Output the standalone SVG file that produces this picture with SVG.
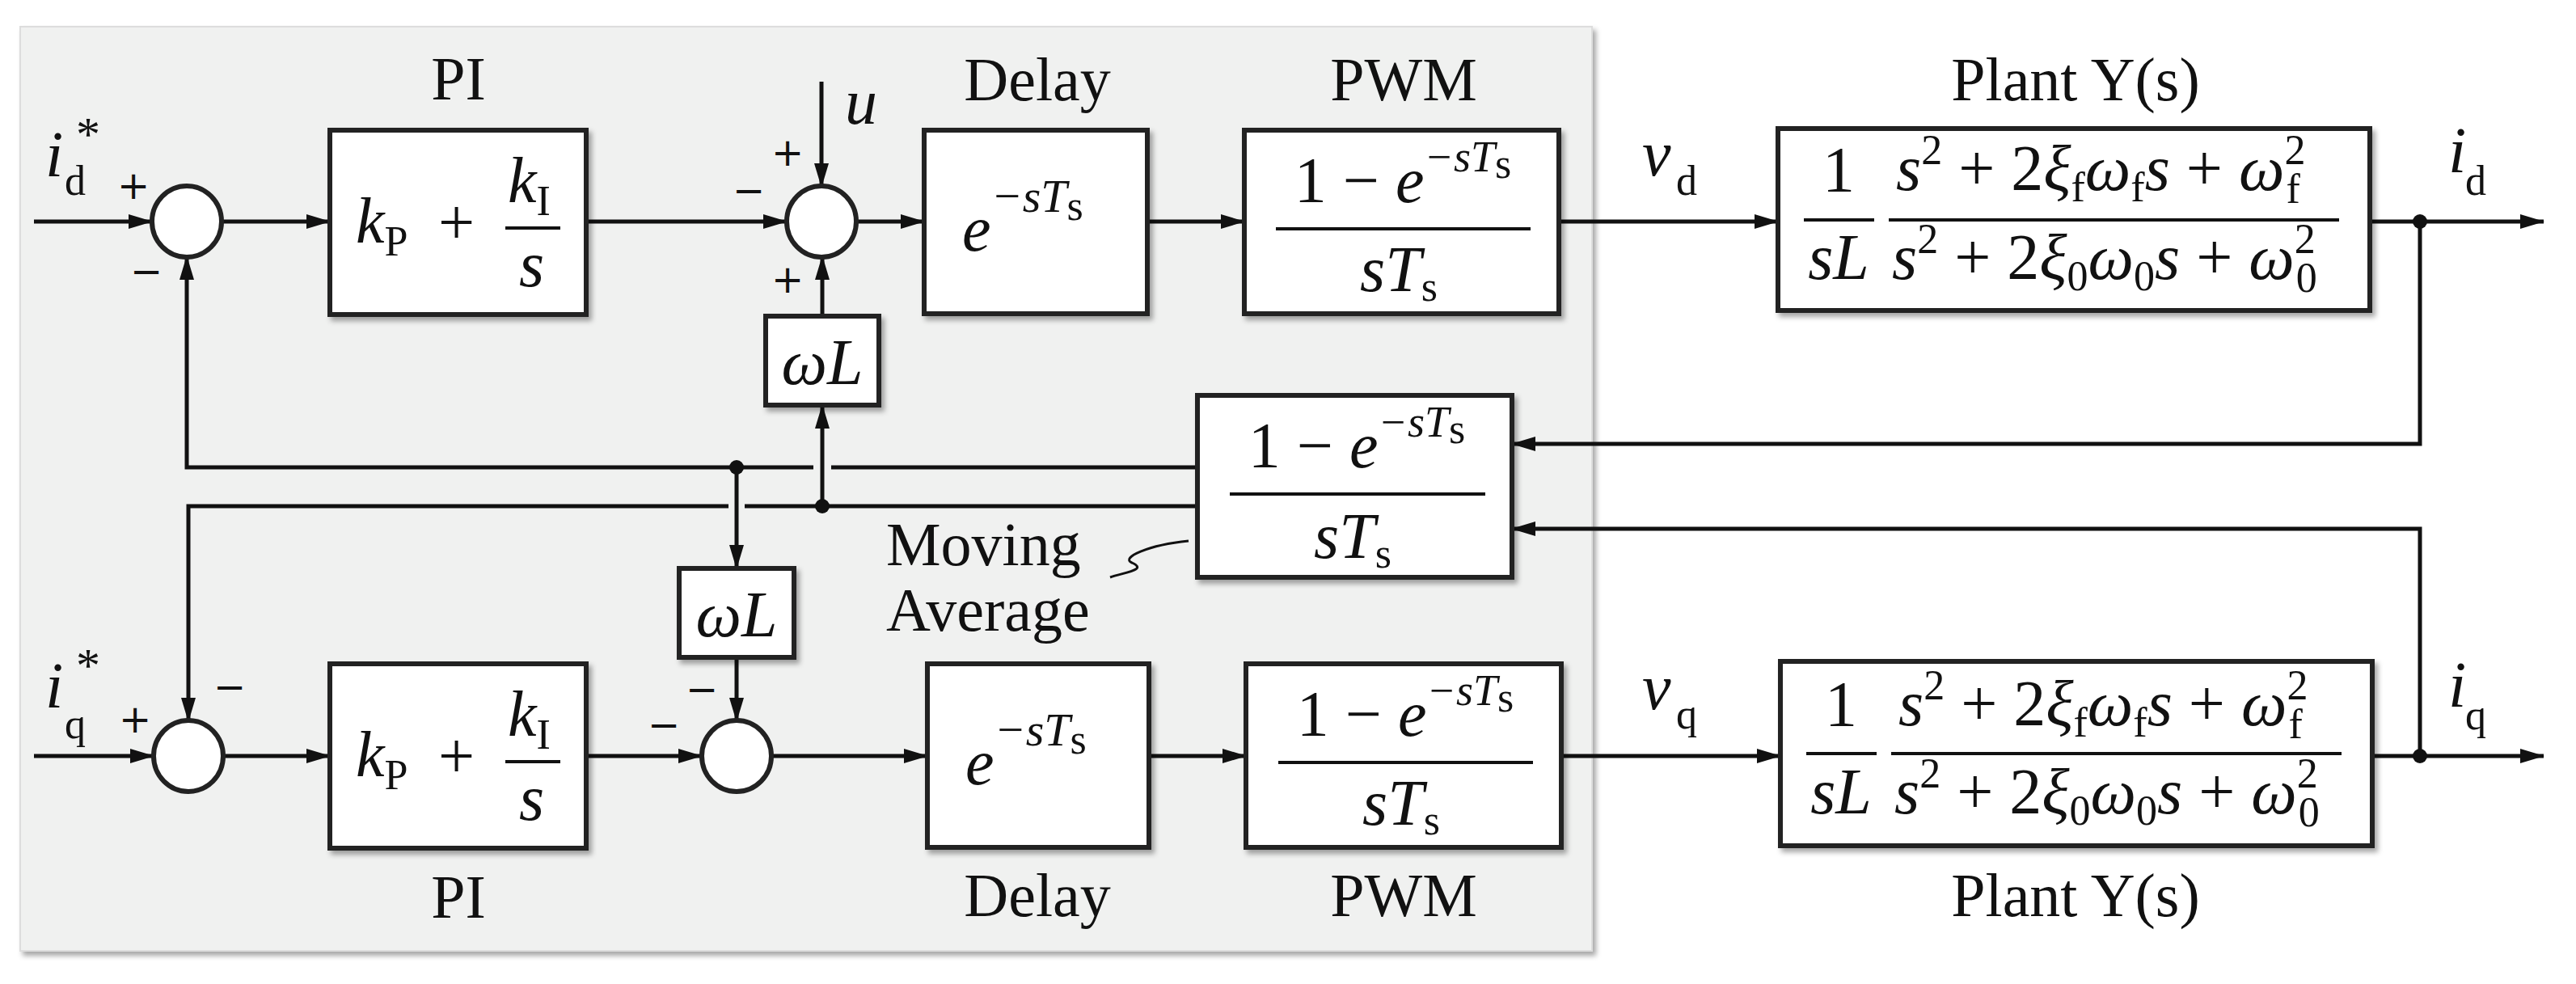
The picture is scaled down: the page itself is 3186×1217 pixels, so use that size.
<svg xmlns="http://www.w3.org/2000/svg" width="3186" height="1217" viewBox="0 0 3186 1217">
<style>
.box{fill:#fff;stroke:#222;stroke-width:6;filter:url(#sh)}
.sum{fill:#fff;stroke:#222;stroke-width:6}
.ln{fill:none;stroke:#111;stroke-width:5}
.ar{marker-end:url(#ah)}
.lbl{font-family:"Liberation Serif",serif;font-size:76px;fill:#111;text-anchor:middle}
.lbs{font-family:"Liberation Serif",serif;font-size:76px;fill:#111;text-anchor:start}
.m{font-family:"Liberation Serif",serif;font-size:80px;fill:#111;font-style:italic}
.r{font-style:normal}
.sg{font-family:"DejaVu Sans",sans-serif;font-size:48px;fill:#111;text-anchor:middle}
.sub{font-size:52px;font-style:normal}
.bar{stroke:#111;stroke-width:4}
</style>
<defs>
<marker id="ah" markerUnits="userSpaceOnUse" markerWidth="30" markerHeight="18" refX="29" refY="9" orient="auto"><path d="M0,0 L30,9 L0,18 z" fill="#111"/></marker>
<filter id="sh" x="-10%" y="-10%" width="130%" height="130%"><feDropShadow dx="4" dy="5" stdDeviation="3" flood-color="#000" flood-opacity="0.35"/></filter>
</defs>
<rect id="panel" x="25" y="33" width="1944" height="1143" fill="#f0f1f0" stroke="#ddd" stroke-width="2" filter="url(#sh)"/>

<g id="connectors">
<path class="ln ar" d="M42,274 H188"/>
<path class="ln ar" d="M274,274 H408"/>
<path class="ln ar" d="M725,274 H973"/>
<path class="ln ar" d="M1016,101 V231"/>
<path class="ln ar" d="M1059,274 H1143"/>
<path class="ln ar" d="M1419,274 H1539"/>
<path class="ln ar" d="M1928,274 H2199"/>
<path class="ln ar" d="M2931,274 H3146"/>
<path class="ln ar" d="M2993,274 V549 H1870"/>
<path class="ln" d="M1481,578 H1028"/>
<path class="ln ar" d="M1006,578 H231 V317"/>
<path class="ln ar" d="M911,578 V703"/>
<path class="ln ar" d="M911,813 V892"/>
<path class="ln" d="M1481,626 H921"/>
<path class="ln ar" d="M901,626 H233 V892"/>
<path class="ln ar" d="M1017,626 V501"/>
<path class="ln ar" d="M1017,391 V317"/>
<path class="ln ar" d="M42,935 H190"/>
<path class="ln ar" d="M276,935 H408"/>
<path class="ln ar" d="M725,935 H868"/>
<path class="ln ar" d="M954,935 H1147"/>
<path class="ln ar" d="M1421,935 H1541"/>
<path class="ln ar" d="M1931,935 H2202"/>
<path class="ln ar" d="M2934,935 H3146"/>
<path class="ln ar" d="M2993,935 V654 H1870"/>
<circle cx="2993" cy="274" r="9" fill="#111"/>
<circle cx="2993" cy="935" r="9" fill="#111"/>
<circle cx="911" cy="578" r="9" fill="#111"/>
<circle cx="1017" cy="626" r="9" fill="#111"/>
<path d="M1373,714 C1390,708 1420,705 1400,696 C1385,690 1420,674 1470,669" fill="none" stroke="#111" stroke-width="3"/>
</g>

<g id="sum1"><ellipse class="sum" cx="231" cy="274" rx="43" ry="44"/><text class="sg" x="165" y="246">+</text><text class="sg" x="181" y="352">−</text></g>
<g id="sum2"><ellipse class="sum" cx="1016" cy="274" rx="43" ry="44"/><text class="sg" x="974" y="205">+</text><text class="sg" x="926" y="252">−</text><text class="sg" x="974" y="362">+</text></g>
<g id="sum3"><ellipse class="sum" cx="233" cy="935" rx="43" ry="44"/><text class="sg" x="167" y="906">+</text><text class="sg" x="284" y="866">−</text></g>
<g id="sum4"><ellipse class="sum" cx="911" cy="935" rx="43" ry="44"/><text class="sg" x="868" y="869">−</text><text class="sg" x="821" y="913">−</text></g>

<g id="inputs">
<text class="m" x="56" y="218" font-size="90">i<tspan class="sub" x="80" y="241" font-size="56">d</tspan><tspan x="94" y="186" font-style="normal" font-size="60">*</tspan></text>
<text class="m" x="56" y="875" font-size="90">i<tspan class="sub" x="80" y="913" font-size="56">q</tspan><tspan x="94" y="843" font-style="normal" font-size="60">*</tspan></text>
<text class="m" x="1045" y="153">u</text>
</g>

<g id="pi_d"><rect class="box" x="408" y="161" width="317" height="228"/>
<text class="lbl" x="567" y="123">PI</text>
<text class="m" x="440" y="300">k<tspan class="sub" dy="16">P</tspan></text>
<text class="m r" x="542" y="302">+</text>
<text class="m" x="628" y="250">k<tspan class="sub" dy="16">I</tspan></text>
<line class="bar" x1="625" y1="282" x2="693" y2="282"/>
<text class="m" x="642" y="354">s</text></g>

<g id="pi_q"><rect class="box" x="408" y="821" width="317" height="228"/>
<text class="lbl" x="567" y="1135">PI</text>
<text class="m" x="440" y="960">k<tspan class="sub" dy="16">P</tspan></text>
<text class="m r" x="542" y="962">+</text>
<text class="m" x="628" y="910">k<tspan class="sub" dy="16">I</tspan></text>
<line class="bar" x1="625" y1="942" x2="693" y2="942"/>
<text class="m" x="642" y="1014">s</text></g>

<g id="wl_d"><rect class="box" x="947" y="391" width="140" height="110"/><text class="m" x="1017" y="475" text-anchor="middle">ωL</text></g>
<g id="wl_q"><rect class="box" x="840" y="703" width="142" height="110"/><text class="m" x="911" y="787" text-anchor="middle">ωL</text></g>

<g id="delay_d"><rect class="box" x="1143" y="161" width="276" height="227"/>
<text class="lbl" x="1283" y="124">Delay</text>
<text class="m" x="1190" y="310" font-size="96">e<tspan font-size="58" dy="-48">−sT</tspan><tspan class="sub" font-size="42" dy="10">s</tspan></text></g>
<g id="delay_q"><rect class="box" x="1147" y="821" width="274" height="227"/>
<text class="lbl" x="1283" y="1133">Delay</text>
<text class="m" x="1194" y="970" font-size="96">e<tspan font-size="58" dy="-48">−sT</tspan><tspan class="sub" font-size="42" dy="10">s</tspan></text></g>

<g id="pwm_d"><rect class="box" x="1539" y="161" width="389" height="227"/>
<text class="lbl" x="1736" y="124">PWM</text>
<text class="m" x="1735" y="250" text-anchor="middle"><tspan class="r">1 − </tspan>e<tspan font-size="54" dy="-38">−sT</tspan><tspan class="sub" font-size="40" dy="8">s</tspan></text>
<line class="bar" x1="1578" y1="283" x2="1893" y2="283"/>
<text class="m" x="1730" y="360" text-anchor="middle">sT<tspan class="sub" dy="12">s</tspan></text></g>
<g id="pwm_q"><rect class="box" x="1541" y="821" width="390" height="227"/>
<text class="lbl" x="1736" y="1133">PWM</text>
<text class="m" x="1738" y="910" text-anchor="middle"><tspan class="r">1 − </tspan>e<tspan font-size="54" dy="-38">−sT</tspan><tspan class="sub" font-size="40" dy="8">s</tspan></text>
<line class="bar" x1="1581" y1="943" x2="1896" y2="943"/>
<text class="m" x="1733" y="1020" text-anchor="middle">sT<tspan class="sub" dy="12">s</tspan></text></g>

<g id="moving_average"><rect class="box" x="1481" y="489" width="389" height="225"/>
<text class="m" x="1678" y="578" text-anchor="middle"><tspan class="r">1 − </tspan>e<tspan font-size="54" dy="-38">−sT</tspan><tspan class="sub" font-size="40" dy="8">s</tspan></text>
<line class="bar" x1="1521" y1="611" x2="1837" y2="611"/>
<text class="m" x="1673" y="690" text-anchor="middle">sT<tspan class="sub" dy="12">s</tspan></text>
<text class="lbs" x="1096" y="699">Moving</text>
<text class="lbs" x="1096" y="780">Average</text></g>

<g id="plant_d"><rect class="box" x="2199" y="159" width="732" height="225"/>
<text class="lbl" x="2567" y="124">Plant Y(s)</text>
<text class="m r" x="2274" y="237" text-anchor="middle">1</text>
<line class="bar" x1="2231" y1="272" x2="2318" y2="272"/>
<text class="m" x="2274" y="345" text-anchor="middle">sL</text>
<text class="m" x="2345" y="235" font-size="76">s<tspan class="sub" font-size="48" dy="-32">2</tspan><tspan class="r" dy="32"> + 2</tspan>ξ<tspan class="sub" font-size="48" dy="14">f</tspan><tspan dy="-14">ω</tspan><tspan class="sub" font-size="48" dy="14">f</tspan><tspan dy="-14">s</tspan><tspan class="r"> + </tspan>ω<tspan class="sub" font-size="48" dy="-32">2</tspan><tspan class="sub" font-size="48" dx="-24" dy="48">f</tspan></text>
<line class="bar" x1="2336" y1="272" x2="2893" y2="272"/>
<text class="m" x="2340" y="345" font-size="76">s<tspan class="sub" font-size="48" dy="-32">2</tspan><tspan class="r" dy="32"> + 2</tspan>ξ<tspan class="sub" font-size="48" dy="14">0</tspan><tspan dy="-14">ω</tspan><tspan class="sub" font-size="48" dy="14">0</tspan><tspan dy="-14">s</tspan><tspan class="r"> + </tspan>ω<tspan class="sub" font-size="48" dy="-32">2</tspan><tspan class="sub" font-size="48" dx="-24" dy="48">0</tspan></text></g>

<g id="plant_q"><rect class="box" x="2202" y="818" width="732" height="228"/>
<text class="lbl" x="2567" y="1133">Plant Y(s)</text>
<text class="m r" x="2277" y="898" text-anchor="middle">1</text>
<line class="bar" x1="2234" y1="932" x2="2321" y2="932"/>
<text class="m" x="2277" y="1006" text-anchor="middle">sL</text>
<text class="m" x="2348" y="897" font-size="76">s<tspan class="sub" font-size="48" dy="-32">2</tspan><tspan class="r" dy="32"> + 2</tspan>ξ<tspan class="sub" font-size="48" dy="14">f</tspan><tspan dy="-14">ω</tspan><tspan class="sub" font-size="48" dy="14">f</tspan><tspan dy="-14">s</tspan><tspan class="r"> + </tspan>ω<tspan class="sub" font-size="48" dy="-32">2</tspan><tspan class="sub" font-size="48" dx="-24" dy="48">f</tspan></text>
<line class="bar" x1="2339" y1="932" x2="2896" y2="932"/>
<text class="m" x="2343" y="1006" font-size="76">s<tspan class="sub" font-size="48" dy="-32">2</tspan><tspan class="r" dy="32"> + 2</tspan>ξ<tspan class="sub" font-size="48" dy="14">0</tspan><tspan dy="-14">ω</tspan><tspan class="sub" font-size="48" dy="14">0</tspan><tspan dy="-14">s</tspan><tspan class="r"> + </tspan>ω<tspan class="sub" font-size="48" dy="-32">2</tspan><tspan class="sub" font-size="48" dx="-24" dy="48">0</tspan></text></g>

<g id="signals">
<text class="m" x="2031" y="217" font-size="90">v<tspan class="sub" x="2073" y="241" font-size="56">d</tspan></text>
<text class="m" x="2031" y="877" font-size="90">v<tspan class="sub" x="2073" y="901" font-size="56">q</tspan></text>
<text class="m" x="3028" y="213" font-size="90">i<tspan class="sub" x="3049" y="241" font-size="56">d</tspan></text>
<text class="m" x="3028" y="874" font-size="90">i<tspan class="sub" x="3049" y="902" font-size="56">q</tspan></text>
</g>
</svg>
